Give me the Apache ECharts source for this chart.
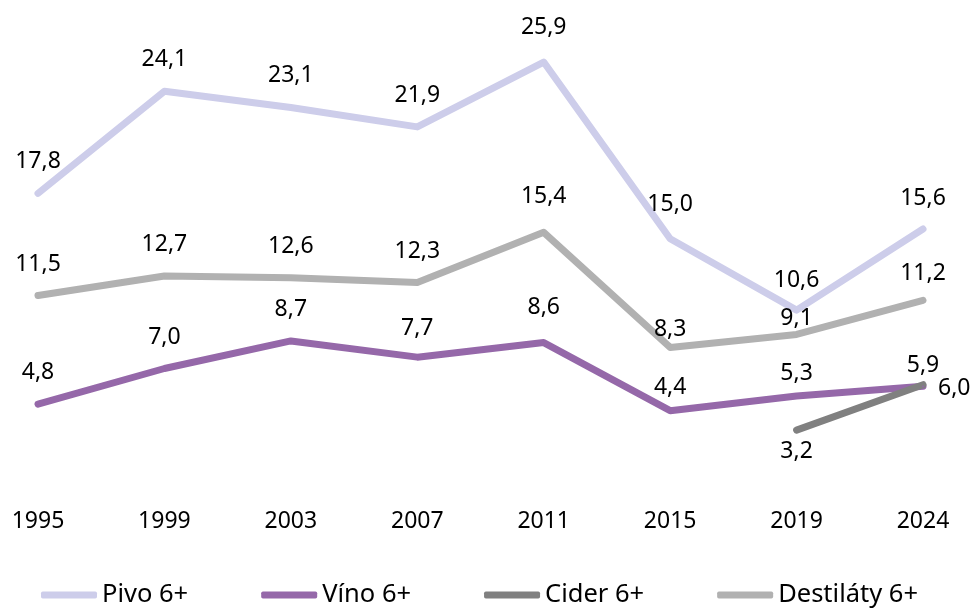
<!DOCTYPE html>
<html>
<head>
<meta charset="utf-8">
<script src="https://cdn.jsdelivr.net/npm/echarts@6/dist/echarts.min.js"></script>
<style>
html, body { margin: 0; padding: 0; background: #fff; }
#main { width: 974px; height: 608px; }
</style>
</head>
<body>
<div id="main"></div>
<script>
// data
var years = ['1995', '1999', '2003', '2007', '2011', '2015', '2019', '2024'];
var pivo = [17.8, 24.1, 23.1, 21.9, 25.9, 15.0, 10.6, 15.6];
var vino = [4.8, 7.0, 8.7, 7.7, 8.6, 4.4, 5.3, 5.9];
var cider = [null, null, null, null, null, null, 3.2, 6.0];
var destilaty = [11.5, 12.7, 12.6, 12.3, 15.4, 8.3, 9.1, 11.2];

var font = '"Noto Sans", "Open Sans", sans-serif';

// labels Excel-style, some moved by hand
var labelFix = {
  'Pivo 6+': { 4: { distance: 22 }, 5: { distance: 22 }, 6: { distance: 17 }, 7: { distance: 18 } },
  'Víno 6+': { 3: { distance: 16 }, 4: { distance: 23 }, 5: { distance: 11 }, 6: { distance: 10 }, 7: { distance: 8 } },
  'Destiláty 6+': { 3: { distance: 19 }, 4: { distance: 23 }, 5: { distance: 5 }, 6: { distance: 3 }, 7: { distance: 14 } },
  'Cider 6+': { 6: { position: 'bottom', distance: 9 }, 7: { position: 'right', distance: 14, offset: [0, 4] } }
};

function mkSeries(name, values, color) {
  var fix = labelFix[name] || {};
  return {
    name: name,
    type: 'line',
    data: values.map(function (v, i) {
      var d = { value: v };
      if (fix[i]) d.label = fix[i];
      return d;
    }),
    symbol: 'circle',
    symbolSize: 2,
    showSymbol: true,
    connectNulls: false,
    lineStyle: { color: color, width: 7, cap: 'round', join: 'round' },
    itemStyle: { color: color },
    label: {
      show: true,
      position: 'top',
      distance: 19,
      fontFamily: font,
      fontSize: 23,
      color: '#000',
      formatter: function (p) {
        return p.value == null ? '' : p.value.toFixed(1).replace('.', ',');
      }
    }
  };
}

var chart = echarts.init(document.getElementById('main'));
chart.setOption({
  animation: false,
  grid: { left: 38, right: 51, top: 28, bottom: 126 },
  xAxis: {
    type: 'category',
    data: years,
    boundaryGap: false,
    axisLine: { show: false },
    axisTick: { show: false },
    axisLabel: { fontFamily: font, fontSize: 23, color: '#000', margin: 28 }
  },
  yAxis: {
    type: 'value',
    min: 0,
    max: 28,
    show: false,
    splitLine: { show: false }
  },
  legend: {
    top: 577,
    left: 36,
    icon: 'roundRect',
    itemWidth: 56,
    itemHeight: 7,
    itemGap: 73,
    textStyle: { fontFamily: font, fontSize: 25.5, color: '#000' },
    data: ['Pivo 6+', 'Víno 6+', 'Cider 6+', 'Destiláty 6+']
  },
  series: [
    mkSeries('Pivo 6+', pivo, '#cdcdea'),
    mkSeries('Víno 6+', vino, '#9568a9'),
    mkSeries('Cider 6+', cider, '#808080'),
    mkSeries('Destiláty 6+', destilaty, '#b1b1b1')
  ]
});
</script>
</body>
</html>
